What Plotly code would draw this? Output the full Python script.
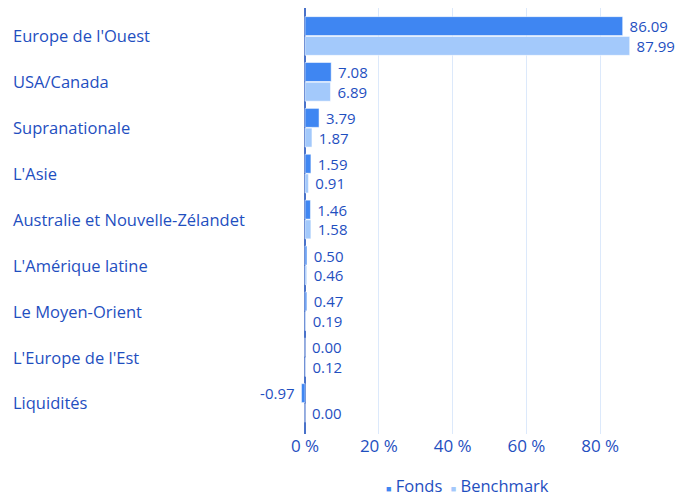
import plotly.graph_objects as go

categories = ["Europe de l'Ouest", "USA/Canada", "Supranationale", "L'Asie",
              "Australie et Nouvelle-Zélandet", "L'Amérique latine", "Le Moyen-Orient",
              "L'Europe de l'Est", "Liquidités"]
fonds = [86.09, 7.08, 3.79, 1.59, 1.46, 0.50, 0.47, 0.00, -0.97]
benchmark = [87.99, 6.89, 1.87, 0.91, 1.58, 0.46, 0.19, 0.12, 0.00]
tick_vals = [0, 20, 40, 60, 80]
tick_text = ["0 %", "20 %", "40 %", "60 %", "80 %"]

TXT = "#1f4fbf"
FONT = "Open Sans"
C_F = "#3f86f2"
C_B = "#a3c9fb"


def labels(vals):
    return [f"{v:.2f} " if v < 0 else f" {v:.2f}" for v in vals]


fig = go.Figure()
fig.add_trace(go.Bar(
    name="Fonds", y=categories, x=fonds, orientation="h",
    marker=dict(color=C_F, line=dict(color="#ffffff", width=0.5)),
    text=labels(fonds), textposition="outside", constraintext="none",
    textfont=dict(color=TXT, size=15, family=FONT), cliponaxis=False,
    showlegend=False,
))
fig.add_trace(go.Bar(
    name="Benchmark", y=categories, x=benchmark, orientation="h",
    marker=dict(color=C_B, line=dict(color="#ffffff", width=0.5)),
    text=labels(benchmark), textposition="outside", constraintext="none",
    textfont=dict(color=TXT, size=15, family=FONT), cliponaxis=False,
    showlegend=False,
))

FW, FH = 680, 488
XMIN, XMAX = -1.1, 100
PX = 3.6875
ZERO = 297
left = ZERO + XMIN * PX
right = ZERO + XMAX * PX
L = round(left)
R = FW - round(right)
B = 62
PW = FW - L - R
PH = FH - 0 - B

for c in categories:
    fig.add_annotation(x=(3 - L) / PW, xref="paper", y=c, yref="y",
                       text=c, showarrow=False, xanchor="left",
                       font=dict(color=TXT, size=16.5, family=FONT))

legend_txt = (f"<span style='color:{C_F};font-size:9px'>■</span>&nbsp;Fonds&nbsp;&nbsp;"
              f"<span style='color:{C_B};font-size:9px'>■</span>&nbsp;Benchmark")
fig.add_annotation(x=(459.5 - L) / PW, xref="paper", y=(PH - 477) / PH, yref="paper",
                   text=legend_txt, showarrow=False, xanchor="center", yanchor="middle",
                   font=dict(color=TXT, size=16.5, family=FONT))

fig.update_layout(
    width=FW, height=FH,
    margin=dict(l=L, r=R, t=0, b=B),
    plot_bgcolor="white", paper_bgcolor="white",
    barmode="group", bargap=0.14, bargroupgap=0.04,
    font=dict(family=FONT, color=TXT),
    showlegend=False,
    xaxis=dict(range=[XMIN, XMAX], tickvals=tick_vals, ticktext=tick_text,
               showgrid=True, gridcolor="#dce9fb", gridwidth=1,
               zeroline=True, zerolinecolor="#4a72c9", zerolinewidth=1.5,
               tickfont=dict(size=17, color=TXT, family=FONT), ticks="",
               showline=False),
    yaxis=dict(categoryorder="array", categoryarray=categories,
               range=[8.676, -0.61], showticklabels=False, ticks="",
               showgrid=False, showline=False),
)

fig.write_html("out.html")
